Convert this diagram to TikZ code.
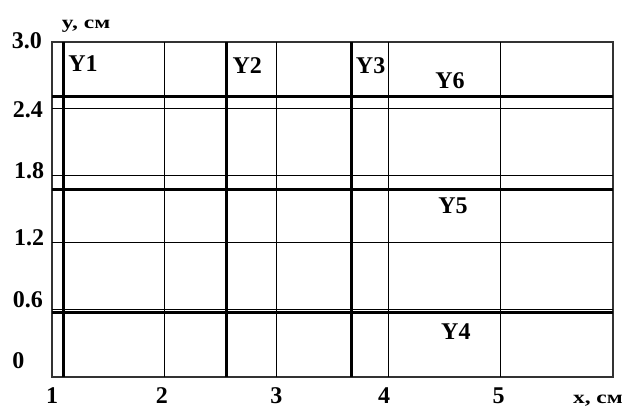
\documentclass[tikz,border=0pt]{standalone}
\usepackage{fontspec}
\setmainfont{Liberation Serif}
\begin{document}
\begin{tikzpicture}[x=112.2pt,y=111.7pt,font=\fontsize{24}{24}\selectfont\bfseries]
                \tikzset{unitlab/.style={anchor=base,xscale=1.3,transform shape,font=\fontsize{18}{18}\selectfont\bfseries}}
                \useasboundingbox (0.5365,-0.2775) rectangle (6.134,3.375);
                \draw [line width=1.3pt,black!80] (1,0) rectangle (6,3) ;
                \foreach \x in {2,3,4,5}
                    \draw [line width=1.1pt] (\x,0) -- (\x,3) ;
                \foreach \y in {0.6,1.2,1.8,2.4}
                    \draw [line width=1.1pt] (1,\y) -- (6,\y) ;
                \draw [line width=3pt] (1.1,0) -- (1.1,3) ;
                \draw [line width=3pt] (2.557,0) -- (2.557,3) ;
                \draw [line width=3pt] (3.665,0) -- (3.665,3) ;
                \draw [line width=3pt] (1,2.507) -- (6,2.507) ;
                \draw [line width=3pt] (1,1.68) -- (6,1.68) ;
                \draw [line width=3pt] (1,0.575) -- (6,0.575) ;
                \draw (0.777,3.008) node (t30) {3.0} ;
                \draw (0.786,2.39) node (t24) {2.4} ;
                \draw (0.795,1.844) node (t18) {1.8} ;
                \draw (0.795,1.244) node (t12) {1.2} ;
                \draw (0.786,0.689) node (t06) {0.6} ;
                \draw (0.7,0.143) node (t00) {0} ;
                \draw (1,-0.242) node [anchor=base] (s1) {1} ;
                \draw (1.98,-0.242) node [anchor=base] (s2) {2} ;
                \draw (3,-0.242) node [anchor=base] (s3) {3} ;
                \draw (3.96,-0.242) node [anchor=base] (s4) {4} ;
                \draw (4.98,-0.242) node [anchor=base] (s5) {5} ;
                \draw (5.866,-0.242) node [unitlab] (xlab) {x, см} ;
                \draw (1.303,3.124) node [unitlab] (ylab) {y, см} ;
                \draw (1.276,2.81) node (y1) {Y1} ;
                \draw (2.74,2.79) node (y2) {Y2} ;
                \draw (3.84,2.79) node (y3) {Y3} ;
                \draw (4.547,2.65) node (y6) {Y6} ;
                \draw (4.574,1.531) node (y5) {Y5} ;
                \draw (4.6,0.41) node (y4) {Y4} ;
            \end{tikzpicture}
\end{document}
